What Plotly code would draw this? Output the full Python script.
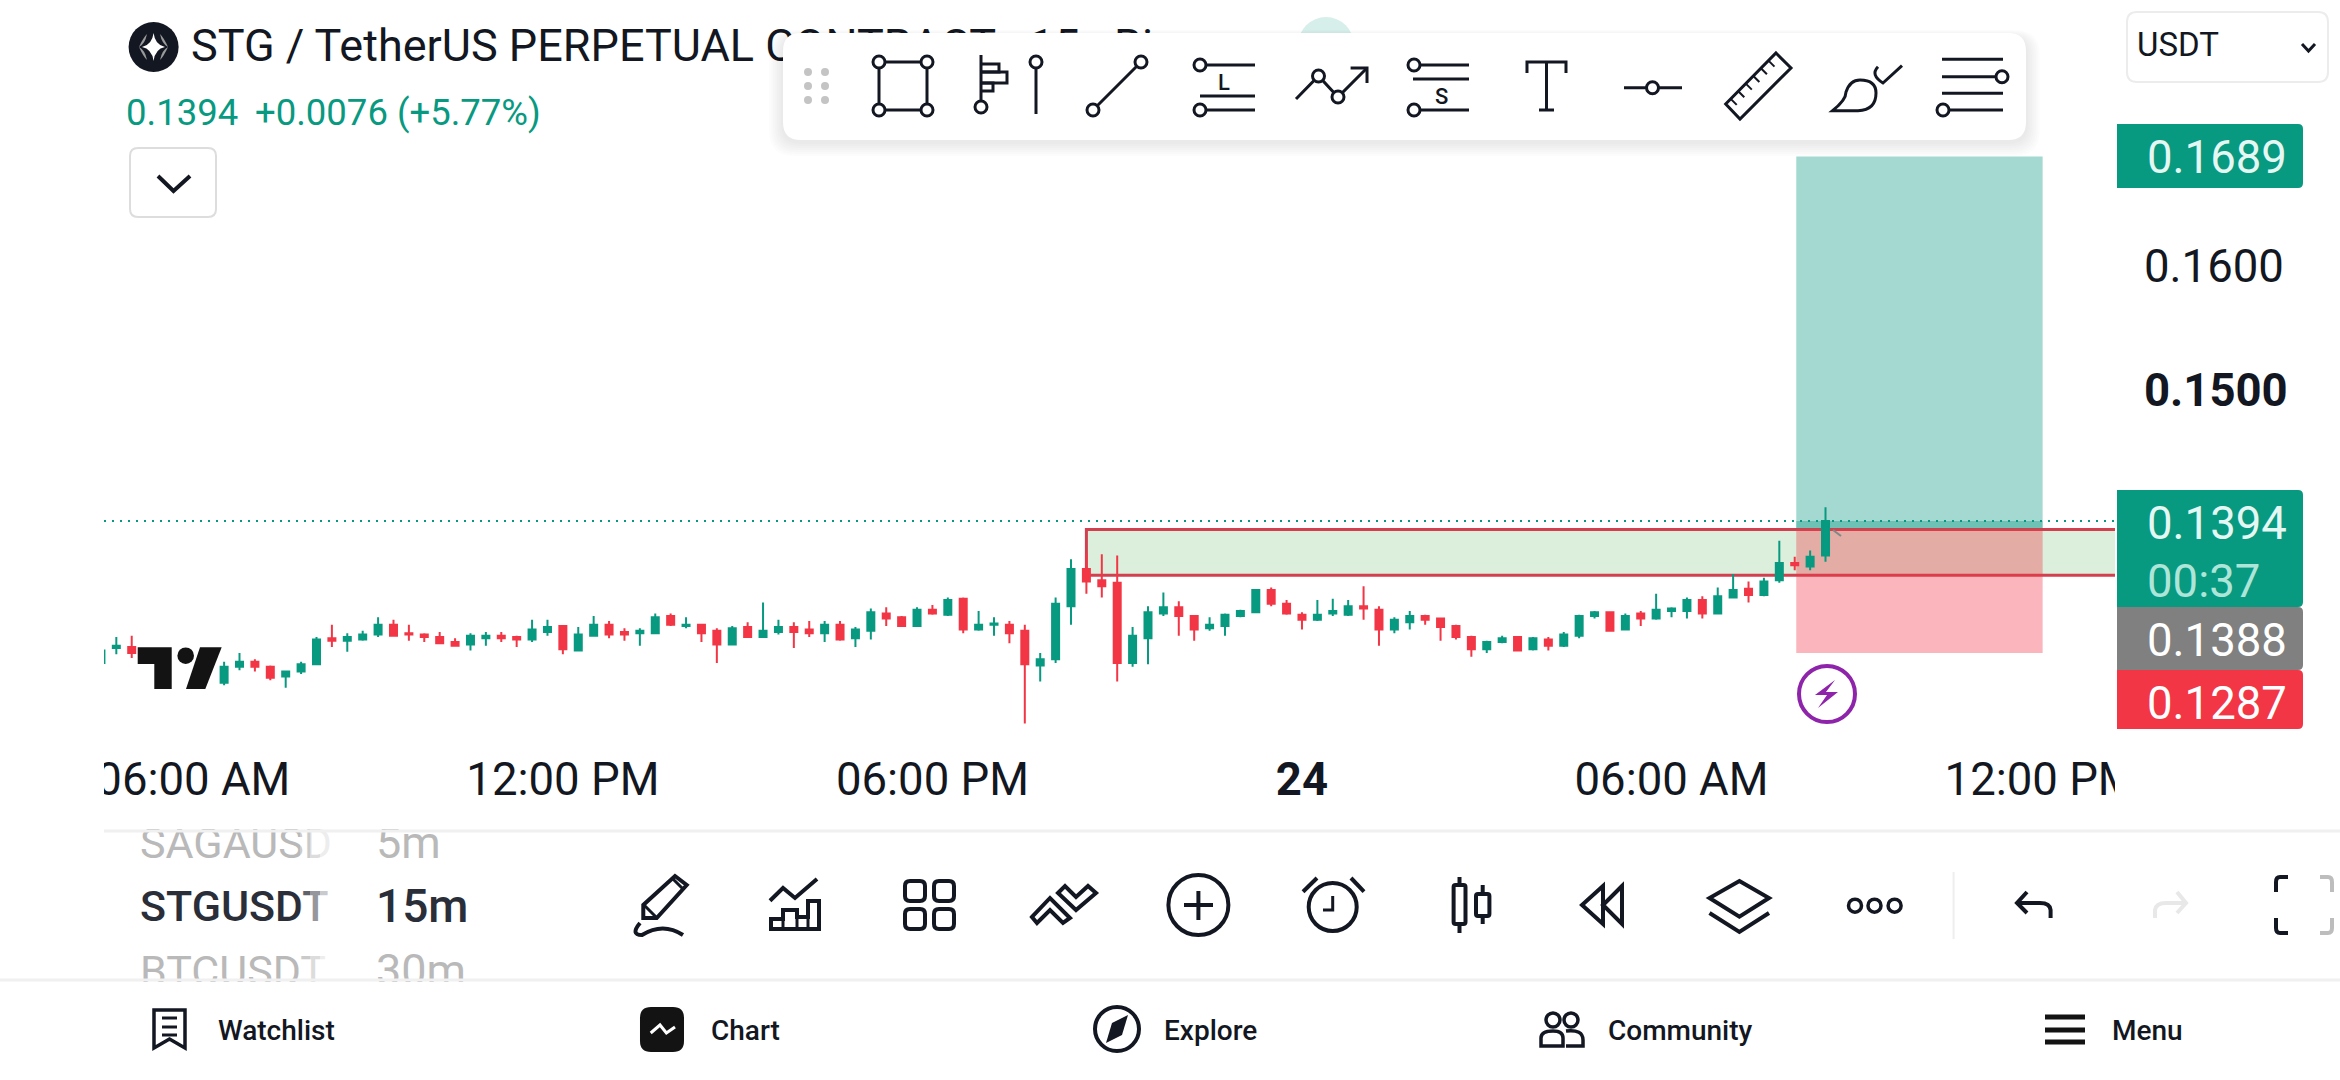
import re
import pandas as pd
import plotly.graph_objects as go

W, H = 2340, 1080
PLOT_L, PLOT_R, PLOT_B = 104, 2115, 729
INK = "#131722"
GREEN = "#089981"
RED = "#F23645"

# prices in ticks of 0.0001; None = hidden behind the logo
opens = [1279,1291,1292,None,None,None,None,None,1263,1276,1280,1276,1268,1272,1278,1299,1297,1298,1302,1310,1303,1302,1300,1296,1294,1299,1301,1300,1298,1304,1309,1289,1301,
         1310,1304,1303,1303,1317,1309,1310,1305,1294,1308,1300,1304,1308,1306,1303,1310,1299,1305,1319,1316,1309,1322,1318,1331,1306,1310,1310,1305,1277,1282,1325,
         1355,1346,1344,1279,1299,1319,1324,1317,1307,1309,1317,1320,1338,1327,1318,1314,1319,1318,1325,1322,1306,1312,1317,1315,1309,1300,1290,1296,1300,1290,1298,1293,
         1301,1317,1320,1306,1319,1315,1321,1321,1330,1319,1332,1339,1334,1346,1360,1357,1366]
highs = [1289,1300,1301,None,None,None,None,None,1280,1287,1282,1277,1272,1280,1300,1310,1303,1305,1316,1314,1310,1303,1304,1299,1303,1304,1304,1301,1314,1314,1309,1308,1317,
         1313,1307,1307,1319,1319,1316,1310,1307,1309,1312,1328,1314,1312,1313,1313,1313,1308,1323,1324,1317,1324,1326,1332,1332,1321,1316,1313,1310,1287,1332,1363,
         1368,1367,1366,1308,1325,1336,1329,1317,1316,1319,1322,1338,1340,1330,1320,1330,1331,1330,1341,1325,1316,1321,1318,1315,1310,1301,1297,1301,1300,1300,1300,1304,
         1318,1321,1320,1319,1321,1335,1324,1332,1333,1340,1351,1345,1348,1378,1365,1370,1405]
lows = [1279,1286,1283,None,None,None,None,None,1261,1273,1272,1265,1259,1270,1278,1292,1288,1297,1300,1301,1297,1296,1295,1293,1289,1293,1296,1292,1296,1301,1286,1289,1301,
        1299,1297,1293,1303,1309,1307,1296,1279,1294,1300,1300,1302,1291,1300,1296,1297,1292,1298,1309,1309,1309,1318,1317,1303,1305,1301,1295,1230,1264,1279,1310,
        1335,1332,1264,1276,1278,1317,1301,1297,1305,1301,1316,1320,1325,1318,1306,1313,1317,1317,1314,1293,1303,1306,1310,1297,1298,1284,1287,1295,1289,1289,1289,1292,
        1299,1315,1305,1306,1309,1314,1316,1315,1315,1319,1332,1328,1333,1344,1354,1354,1361]
closes = [1289,1293,1287,None,None,None,None,None,1276,1280,1276,1267,1272,1278,1298,1297,1300,1302,1310,1301,1302,1300,1295,1293,1301,1301,1299,1298,1306,1308,1290,1302,1310,
          1302,1302,1305,1316,1310,1310,1303,1294,1307,1300,1305,1308,1304,1303,1310,1298,1306,1320,1315,1309,1322,1319,1330,1306,1310,1311,1303,1278,1282,1327,1355,
          1345,1341,1279,1301,1320,1324,1317,1306,1310,1318,1321,1338,1327,1319,1314,1318,1321,1325,1323,1306,1314,1317,1314,1308,1300,1290,1296,1299,1289,1299,1293,1302,
          1317,1320,1305,1317,1315,1322,1323,1330,1319,1333,1338,1334,1345,1360,1358,1365,1394]

last_price = 0.1394
target_price = 0.1689
entry_price = 0.1388
stop_price = 0.1287
zone_top = 0.1387
zone_bottom = 0.1350
x_tick_times = ["2024-04-23 06:00", "2024-04-23 12:00", "2024-04-23 18:00",
                "2024-04-24 00:00", "2024-04-24 06:00", "2024-04-24 12:00"]
x_tick_text = ["06:00 AM", "12:00 PM", "06:00 PM", "<b>24</b>", "06:00 AM", "12:00 PM"]
y_tick_vals = [0.16, 0.15]
y_tick_text = ["0.1600", "<b>0.1500</b>"]

bar = pd.Timedelta(minutes=15)
t0 = pd.Timestamp("2024-04-23 04:30")
dates = [t0 + i * bar for i in range(len(opens))]


def to_price(vals):
    return [None if v is None else v / 10000 for v in vals]


fig = go.Figure()
fig.add_trace(go.Candlestick(
    x=dates, open=to_price(opens), high=to_price(highs), low=to_price(lows), close=to_price(closes),
    increasing=dict(line=dict(color=GREEN, width=2), fillcolor=GREEN),
    decreasing=dict(line=dict(color=RED, width=2), fillcolor=RED),
    whiskerwidth=0, hoverinfo="skip", showlegend=False,
))

# page-pixel text that the floating toolbar and list fades must be able to cover
under_text = [
    (191, 50, "STG / TetherUS PERPETUAL CONTRACT · 15 · Bi", 45, INK, 400),
    (140, 847, "SAGAUSDT", 43, "#b9b9b9", 400),
    (376, 847, "5m", 45, "#b9b9b9", 400),
    (140, 910, "STGUSDT", 43, "#2a2e39", 500),
    (376, 910, "15m", 46, "#2a2e39", 500),
    (140, 975, "BTCUSDT", 43, "#b9b9b9", 400),
    (376, 975, "30m", 45, "#b9b9b9", 400),
]
for tx, ty, s, size, col, wt in under_text:
    fig.add_trace(go.Scatter(x=[tx], y=[ty], text=[s], mode="text", textposition="middle right",
                             textfont=dict(family="Roboto", size=size, color=col, weight=wt),
                             xaxis="x2", yaxis="y2", cliponaxis=False, hoverinfo="skip", showlegend=False))

shapes = []


def X(x):
    return x / W


def Y(y):
    return 1 - y / H


def conv(d):
    out, is_x = [], True
    for tok in d.split():
        if tok.isalpha():
            out.append(tok)
            is_x = True
        else:
            out.append(f"{X(float(tok)):.5f}" if is_x else f"{Y(float(tok)):.5f}")
            is_x = not is_x
    return " ".join(out)


def path(d, color=INK, w=4, fill=None):
    shapes.append(dict(type="path", path=conv(d), xref="paper", yref="paper", layer="above",
                       line=dict(color=color, width=w), fillcolor=fill or "rgba(0,0,0,0)"))


def solid(d, fill):
    shapes.append(dict(type="path", path=conv(d), xref="paper", yref="paper", layer="above",
                       line=dict(width=0), fillcolor=fill))


def line(x0, y0, x1, y1, color=INK, w=4):
    shapes.append(dict(type="line", x0=X(x0), y0=Y(y0), x1=X(x1), y1=Y(y1), xref="paper", yref="paper",
                       layer="above", line=dict(color=color, width=w)))


def circle(cx, cy, r, color=INK, w=4, fill="#ffffff"):
    shapes.append(dict(type="circle", x0=X(cx - r), x1=X(cx + r), y0=Y(cy - r), y1=Y(cy + r),
                       xref="paper", yref="paper", layer="above",
                       line=dict(color=color, width=w), fillcolor=fill))


def rect(x0, y0, x1, y1, fill="#ffffff"):
    shapes.append(dict(type="rect", x0=X(x0), x1=X(x1), y0=Y(y0), y1=Y(y1), xref="paper", yref="paper",
                       layer="above", line=dict(width=0), fillcolor=fill))


def rr(x0, y0, x1, y1, r):
    return (f"M {x0+r} {y0} L {x1-r} {y0} Q {x1} {y0} {x1} {y0+r} L {x1} {y1-r} Q {x1} {y1} {x1-r} {y1} "
            f"L {x0+r} {y1} Q {x0} {y1} {x0} {y1-r} L {x0} {y0+r} Q {x0} {y0} {x0+r} {y0} Z")


def rr_right(x0, y0, x1, y1, r):
    return f"M {x0} {y0} L {x1-r} {y0} Q {x1} {y0} {x1} {y0+r} L {x1} {y1-r} Q {x1} {y1} {x1-r} {y1} L {x0} {y1} Z"


def poly(pts, close=False):
    d = "M " + " L ".join(f"{a} {b}" for a, b in pts)
    return d + (" Z" if close else "")


# --- trading drawings, placed through the data axes
idx_zone, idx_pos0, idx_pos1 = 64, 110.1, 126.1
shapes += [
    dict(type="rect", xref="x", yref="y", layer="below", x0=t0 + idx_zone * bar, x1=t0 + 140 * bar,
         y0=zone_bottom, y1=zone_top, line=dict(color="#d2404f", width=3), fillcolor="rgba(76,175,80,0.2)"),
    dict(type="rect", xref="x", yref="y", layer="below", x0=t0 + idx_pos0 * bar, x1=t0 + idx_pos1 * bar,
         y0=entry_price, y1=target_price, line=dict(width=0), fillcolor="rgba(8,153,129,0.37)"),
    dict(type="rect", xref="x", yref="y", layer="below", x0=t0 + idx_pos0 * bar, x1=t0 + idx_pos1 * bar,
         y0=stop_price, y1=entry_price, line=dict(width=0), fillcolor="rgba(242,54,69,0.36)"),
    dict(type="rect", xref="x", yref="y", layer="below", x0=t0 + idx_pos0 * bar, x1=t0 + idx_pos1 * bar,
         y0=entry_price, y1=last_price, line=dict(width=0), fillcolor="rgba(8,153,129,0.35)"),
    dict(type="line", xref="paper", yref="y", layer="below", x0=X(PLOT_L), x1=X(PLOT_R), y0=last_price, y1=last_price,
         line=dict(color=GREEN, width=2, dash="2px,6px")),
]

# --- covers that clip the axis labels at the pane edges
rect(0, 735, PLOT_L, 825)
rect(PLOT_R, 735, W, 825)
rect(120, 806, 480, 829)
rect(120, 982, 480, 1010)
for k, a in enumerate([0.25, 0.5, 0.75]):
    rect(300 + k * 10, 825, 310 + k * 10, 985, f"rgba(255,255,255,{a})")
rect(330, 825, 372, 985)
line(PLOT_L, 831, W, 831, "#f0f0f0", 3)
line(0, 980, W, 980, "#f0f0f0", 3)

# --- logo
solid("M 137.7 647.3 L 171.7 647.3 L 171.7 689 L 154.3 689 L 154.3 664 L 137.7 664 Z", "#131313")
circle(185.7, 655.7, 8.3, "#131313", 0, "#131313")
solid("M 200 647.3 L 221.7 647.3 L 205.3 689 L 186 689 Z", "#131313")

# --- lightning badge and handle
circle(1827, 694, 28, "#8E24AA", 4)
solid("M 1835 680 L 1815 695 L 1827 695 L 1818 708 L 1838 692 L 1826 692 Z", "#8E24AA")
line(1833, 530, 1841, 536, "#7d8a88", 2)

# --- header
circle(153.6, 47, 25, "#131722", 0, "#131722")
solid("M 153.6 33 Q 155 45 165 47 Q 155 49 153.6 61 Q 152 49 142 47 Q 152 45 153.6 33 Z", "#ffffff")
solid("M 147 34 Q 143 38 139 47 Q 145 44 147 34 Z", "#9a9a9a")
solid("M 160 34 Q 164 38 168 47 Q 162 44 160 34 Z", "#9a9a9a")
solid("M 147 60 Q 143 56 139 47 Q 145 50 147 60 Z", "#9a9a9a")
solid("M 160 60 Q 164 56 168 47 Q 162 50 160 60 Z", "#9a9a9a")
path(rr(130, 148, 216, 217, 8), "#dddddd", 2)
path(poly([(158, 176), (173.5, 191), (190, 176)]), INK, 4)
path(rr(2127, 12, 2328, 82, 10), "#ececec", 2)
path(poly([(2302, 44), (2308.5, 51), (2315, 44)]), INK, 3)

# --- price scale flags
solid(rr_right(2117, 124, 2303, 188, 5), GREEN)
solid(rr_right(2117, 490, 2303, 607, 5), GREEN)
solid(rr_right(2117, 607, 2303, 670, 5), "#808080")
solid(rr_right(2117, 670, 2303, 729, 5), RED)

# --- floating toolbar
circle(1326, 45, 28, "#d7efea", 0, "#d7efea")
for i in range(7, 0, -1):
    solid(rr(783 - i * 2, 33 - i + 4, 2026 + i * 2, 140 + i * 2 + 2, 18 + i), "rgba(0,0,0,0.012)")
solid(rr(783, 33, 2026, 140, 18), "#ffffff")
for dx in (808, 825):
    for dy in (72, 86, 100):
        circle(dx, dy, 4, "#c4c4c4", 0, "#c4c4c4")
# box tool
for a, b, c, d in [(879, 62, 927, 62), (879, 110, 927, 110), (879, 62, 879, 110), (927, 62, 927, 110)]:
    line(a, b, c, d, INK, 3)
for a, b in [(879, 62), (927, 62), (879, 110), (927, 110)]:
    circle(a, b, 6, INK, 3)
# fib tool and vertical line
line(981, 55, 981, 107, INK, 3)
path(poly([(981, 64), (999, 64), (999, 72), (981, 72)]), INK, 3)
path(poly([(981, 72), (1007, 72), (1007, 83), (981, 83)]), INK, 3)
path(poly([(981, 83), (993, 83), (993, 91), (981, 91)]), INK, 3)
circle(981, 107, 6, INK, 3)
line(1036, 62, 1036, 114, INK, 3)
circle(1036, 62, 6, INK, 3)
# trend line
line(1093, 110, 1141, 62, INK, 3)
circle(1093, 110, 6, INK, 3)
circle(1141, 62, 6, INK, 3)
# long tool
line(1200, 65, 1255, 65, INK, 3)
line(1200, 96, 1255, 96, INK, 3)
line(1200, 110, 1255, 110, INK, 3)
circle(1200, 65, 6, INK, 3)
circle(1200, 110, 6, INK, 3)
# polyline with arrow
path(poly([(1296, 99), (1318.5, 76), (1338, 97), (1367, 68)]), INK, 3)
path(poly([(1350.6, 68), (1367, 68), (1367, 83)]), INK, 3)
circle(1318.5, 76, 6, INK, 3)
circle(1338, 97, 6, INK, 3)
# short tool
line(1414, 65, 1469, 65, INK, 3)
line(1413, 79, 1469, 79, INK, 3)
line(1414, 110, 1469, 110, INK, 3)
circle(1414, 65, 6, INK, 3)
circle(1414, 110, 6, INK, 3)
# text tool
path(poly([(1527, 73), (1527, 62), (1566, 62), (1566, 73)]), INK, 3)
line(1546.5, 62, 1546.5, 110, INK, 3)
line(1539, 110, 1554, 110, INK, 3)
# price line tool
line(1624, 87.7, 1682, 87.7, INK, 3)
circle(1652.5, 87.7, 6, INK, 3)
# ruler
path(poly([(1776, 53), (1791, 68), (1740, 119), (1725.7, 104)], True), INK, 3)
for t in (0.15, 0.3, 0.45, 0.6, 0.75, 0.9):
    ax, ay = 1776 + (1725.7 - 1776) * t, 53 + (104 - 53) * t
    line(ax, ay, ax + 6, ay + 6, INK, 2)
# brush
path("M 1832.6 110.7 Q 1846 100 1846 92 Q 1850 80 1860 80 Q 1876 80 1876 93 Q 1876 110 1858 110.7 Z", INK, 3)
path("M 1878 66.7 Q 1870 75 1883 83 L 1902 65.7", INK, 3)
# horizontal lines tool
line(1942, 59.3, 2003, 59.3, INK, 3)
line(1942, 76.7, 2002, 76.7, INK, 3)
line(1942, 93.3, 2003, 93.3, INK, 3)
line(1943, 110, 2003, 110, INK, 3)
circle(2002, 76.7, 6, INK, 3)
circle(1943, 110, 6, INK, 3)

# --- lower toolbar icons
path(poly([(675, 876), (686.7, 885), (656.7, 918), (643.3, 918), (643.3, 905)], True), INK, 4)
line(644, 905, 656, 917, INK, 3)
line(672, 878, 684, 890, INK, 3)
path("M 640 923 Q 630 935 642 935 Q 663 922 683 935", INK, 4)
path(poly([(770, 900.7), (783, 888), (795, 898), (817, 879)]), INK, 4)
path(poly([(771, 929), (771, 919), (783, 919), (783, 910), (797, 910), (797, 917), (808, 917), (808, 901),
           (819, 901), (819, 929)], True), INK, 4)
line(783, 919, 783, 929, INK, 3)
line(797, 917, 797, 929, INK, 3)
line(808, 917, 808, 929, INK, 3)
for a, b in [(905, 881), (934, 881), (905, 909), (934, 909)]:
    path(rr(a, b, a + 20, b + 20, 5), INK, 4)
path(poly([(1032, 917), (1050, 898), (1070, 918), (1063, 923), (1050, 910), (1037, 923)], True), INK, 4)
path(poly([(1058, 893), (1065, 886), (1076, 897), (1088, 886), (1096, 893), (1076, 910)], True), INK, 4)
circle(1198.4, 905, 30, INK, 4)
line(1184, 905, 1213, 905, INK, 4)
line(1198.4, 891, 1198.4, 920, INK, 4)
circle(1332.7, 907, 24, INK, 4)
path(poly([(1332.7, 896), (1332.7, 910), (1323, 910)]), INK, 3)
line(1303, 891.7, 1317, 878, INK, 4)
line(1351, 878, 1364, 891.7, INK, 4)
path(rr(1453.6, 885, 1465.5, 924, 2), INK, 4)
line(1459.5, 877, 1459.5, 885, INK, 4)
line(1459.5, 924, 1459.5, 933, INK, 4)
path(rr(1476, 894, 1489.4, 916, 2), INK, 4)
line(1482.7, 885, 1482.7, 894, INK, 4)
line(1482.7, 916, 1482.7, 924, INK, 4)
path(poly([(1603, 886), (1582, 905), (1603, 924)], True), INK, 4)
path(poly([(1622, 886), (1603, 905), (1622, 924)], True), INK, 4)
path(poly([(1739.4, 881), (1769, 898), (1739.4, 916.7), (1709.5, 898)], True), INK, 4)
path(poly([(1709.5, 913), (1739.4, 932), (1769, 913)]), INK, 4)
for a in (1855, 1874.5, 1894.6):
    circle(a, 905.7, 6.5, INK, 3.5)
line(1953.6, 872, 1953.6, 939, "#eeeeee", 2)
path("M 2050.6 918 L 2050.6 910 Q 2050 903 2040 903 L 2017 903", INK, 4)
path(poly([(2027, 892), (2017, 903), (2027, 913)]), INK, 4)
path("M 2155 918 L 2155 910 Q 2156 903 2166 903 L 2186 903", "#e8e8e8", 4)
path(poly([(2177, 892), (2186, 903), (2177, 913)]), "#e8e8e8", 4)
path("M 2288 877 L 2280 877 Q 2276 877 2276 882 L 2276 892", INK, 4)
path("M 2288 933 L 2280 933 Q 2276 933 2276 928 L 2276 918", INK, 4)
path("M 2320 877 L 2328 877 Q 2332 877 2332 882 L 2332 892", "#bdbdbd", 4)
path("M 2320 933 L 2328 933 Q 2332 933 2332 928 L 2332 918", "#bdbdbd", 4)

# --- bottom navigation icons
path(poly([(154, 1010), (185, 1010), (185, 1048), (169.5, 1039), (154, 1048)], True), INK, 3.5)
for b in (1018, 1027, 1035):
    line(162, b, 177, b, INK, 3)
solid(rr(640, 1007, 684, 1052, 11), "#131313")
path(poly([(650.7, 1033), (660, 1025), (666.4, 1033), (675, 1027)]), "#ffffff", 3)
circle(1117, 1029, 22, INK, 4)
solid("M 1128 1015 L 1122 1035 L 1106 1043 L 1112 1023 Z", INK)
circle(1553, 1020, 7, INK, 3.5)
circle(1571, 1020, 7, INK, 3.5)
path("M 1541 1046 L 1541 1038 Q 1541 1031 1553 1031 Q 1563 1031 1563 1038 L 1563 1046 Z", INK, 3.5)
path("M 1566 1031 Q 1583 1029 1583 1040 L 1583 1046 L 1566 1046", INK, 3.5)
for b in (1017, 1030, 1042):
    line(2045, b, 2085, b, "#131313", 5)

# --- texts above the chrome
ann_items = [
    (125, 112, "0.1394", 36.5, GREEN, 400),
    (254, 112, "+0.0076 (+5.77%)", 36.5, GREEN, 400),
    (2136, 45, "USDT", 33, INK, 400),
    (2146, 157, "0.1689", 45.5, "#e4f7f3", 400),
    (2146, 523, "0.1394", 45.5, "#e4f7f3", 400),
    (2146, 581, "00:37", 45.5, "#aee5d9", 400),
    (2146, 640, "0.1388", 45.5, "#ffffff", 400),
    (2146, 703, "0.1287", 45.5, "#ffffff", 400),
    (1217, 82, "L", 22, INK, 500),
    (1434, 96, "S", 22, INK, 500),
    (217, 1030, "Watchlist", 28, INK, 500),
    (709.7, 1030, "Chart", 28, INK, 500),
    (1163, 1030, "Explore", 28, INK, 500),
    (1607, 1030, "Community", 28, INK, 500),
    (2111, 1030, "Menu", 28, INK, 500),
]
annotations = [
    dict(x=X(ax), y=Y(ay), xref="paper", yref="paper", text=s, showarrow=False, xanchor="left", yanchor="middle",
         xshift=0, yshift=0, borderpad=0, font=dict(family="Roboto", size=size, color=col, weight=wt))
    for ax, ay, s, size, col, wt in ann_items
]

PRICE_PER_PX = 0.01 / 123.5
fig.update_layout(
    width=W, height=H, margin=dict(l=0, r=0, t=0, b=0, pad=0, autoexpand=False), autosize=False,
    paper_bgcolor="#ffffff", plot_bgcolor="rgba(0,0,0,0)", showlegend=False, boxgap=0.35,
    font=dict(family="Roboto", color=INK),
    shapes=shapes, annotations=annotations,
    xaxis=dict(domain=[X(PLOT_L), X(PLOT_R)], type="date",
               range=[t0 + 0.2 * bar, t0 + 130.8 * bar], rangeslider=dict(visible=False),
               tickmode="array", tickvals=x_tick_times, ticktext=x_tick_text, tickangle=0,
               ticks="", ticklabelstandoff=19, tickfont=dict(family="Roboto", size=45.5, color=INK),
               showgrid=False, zeroline=False, showline=False, anchor="y"),
    yaxis=dict(domain=[Y(PLOT_B), 1], side="right", range=[0.15 - (PLOT_B - 390) * PRICE_PER_PX, 0.15 + 390 * PRICE_PER_PX],
               tickmode="array", tickvals=y_tick_vals, ticktext=y_tick_text,
               ticks="", ticklabelstandoff=28, tickfont=dict(family="Roboto", size=45.5, color=INK),
               showgrid=False, zeroline=False, showline=False, anchor="x"),
    xaxis2=dict(domain=[0, 1], range=[0, W], visible=False, fixedrange=True, anchor="y2"),
    yaxis2=dict(domain=[0, 1], range=[H, 0], visible=False, fixedrange=True, anchor="x2"),
)

fig.write_html("out.html", config=dict(displayModeBar=False, responsive=False),
               default_width="2340px", default_height="1080px",
               post_script=("document.documentElement.style.cssText='margin:0;padding:0;overflow:hidden;background:#fff';"
                            "document.body.style.cssText='margin:0;padding:0;overflow:hidden;background:#fff';"))
